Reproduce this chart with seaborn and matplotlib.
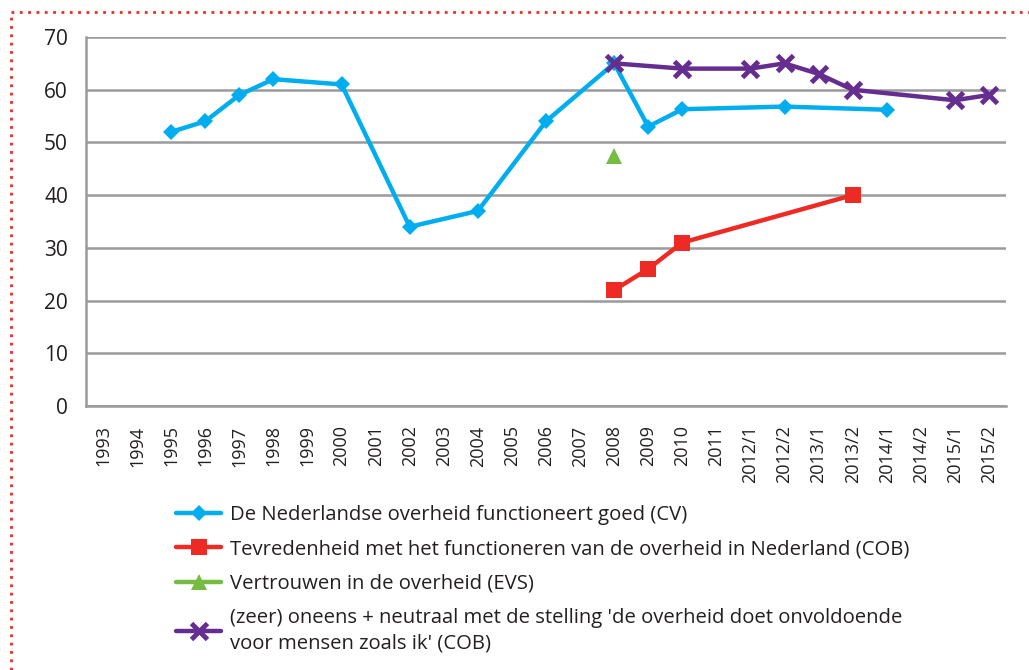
import matplotlib.pyplot as plt
import seaborn as sns
from matplotlib.lines import Line2D

# categorieën op de x-as
periodes = ["1993", "1994", "1995", "1996", "1997", "1998", "1999", "2000", "2001",
            "2002", "2003", "2004", "2005", "2006", "2007", "2008", "2009", "2010",
            "2011", "2012/1", "2012/2", "2013/1", "2013/2", "2014/1", "2014/2",
            "2015/1", "2015/2"]

# De Nederlandse overheid functioneert goed (CV)
cv_periodes = ["1995", "1996", "1997", "1998", "2000", "2002", "2004", "2006",
               "2008", "2009", "2010", "2012/2", "2014/1"]
cv_waarden = [52, 54, 59, 62, 61, 34, 37, 54, 65, 53, 56.3, 56.8, 56.2]

# Tevredenheid met het functioneren van de overheid (COB)
cob_periodes = ["2008", "2009", "2010", "2013/2"]
cob_waarden = [22, 26, 31, 40]

# Vertrouwen in de overheid (EVS)
evs_periodes = ["2008"]
evs_waarden = [47.5]

# (zeer) oneens + neutraal (COB)
oneens_periodes = ["2008", "2010", "2012/1", "2012/2", "2013/1", "2013/2", "2015/1", "2015/2"]
oneens_waarden = [65, 64, 64, 65, 63, 60, 58, 59]

labels = [
    "De Nederlandse overheid functioneert goed (CV)",
    "Tevredenheid met het functioneren van de overheid in Nederland (COB)",
    "Vertrouwen in de overheid (EVS)",
    "(zeer) oneens + neutraal met de stelling 'de overheid doet onvoldoende\nvoor mensen zoals ik' (COB)",
]

sns.set_style("white")
plt.rcParams['font.family'] = ['Open Sans', 'DejaVu Sans']

fig = plt.figure(figsize=(10.29, 6.70), dpi=100)
ax = fig.add_axes([86 / 1029, 1 - 406 / 670, 920 / 1029, 369 / 670])

grijs = "#9b9b9d"
tekst = "#231f20"

def pos(lijst):
    return [periodes.index(p) for p in lijst]

sns.lineplot(x=pos(cv_periodes), y=cv_waarden, ax=ax, color="#00aeef", lw=3.2,
             marker="D", markersize=8.5, markeredgewidth=0, label=labels[0], zorder=3)
sns.lineplot(x=pos(cob_periodes), y=cob_waarden, ax=ax, color="#ee2a24", lw=3.2,
             marker="s", markersize=12, markeredgewidth=0, label=labels[1], zorder=3)
sns.lineplot(x=pos(evs_periodes), y=evs_waarden, ax=ax, color="#76bc43", lw=3.2,
             marker="^", markersize=11, markeredgewidth=0, label=labels[2], zorder=3)
sns.lineplot(x=pos(oneens_periodes), y=oneens_waarden, ax=ax, color="#662d91", lw=3.2,
             marker="x", markersize=12, markeredgewidth=3.5, markeredgecolor="#662d91",
             label=labels[3], zorder=4)

ax.set_xlim(-0.5, len(periodes) - 0.5)
ax.set_ylim(0, 70)
ax.set_yticks(range(0, 71, 10))
ax.set_xticks(range(len(periodes)))
ax.set_xticklabels(periodes, rotation=90, fontsize=13, color=tekst)
ax.set_xticks([i - 0.5 for i in range(len(periodes) + 1)], minor=True)
ax.tick_params(axis="x", which="major", length=0, pad=14)
ax.tick_params(axis="x", which="minor", length=5, width=1.5, color=grijs, direction="out")
ax.tick_params(axis="y", length=6, width=1.5, color=grijs, labelsize=15, labelcolor=tekst, pad=7)

ax.grid(axis="y", color=grijs, lw=1.8)
ax.grid(axis="x", visible=False)
for s in ["top", "right"]:
    ax.spines[s].set_visible(False)
for s in ["left", "bottom"]:
    ax.spines[s].set_color(grijs)
    ax.spines[s].set_linewidth(1.8)
ax.set_axisbelow(True)
ax.set_xlabel("")
ax.set_ylabel("")

handles, lbls = ax.get_legend_handles_labels()
ax.get_legend().remove()
leg = fig.legend(handles, lbls, loc="upper left", bbox_to_anchor=(158 / 1029, 1 - 487 / 670),
                 frameon=False, fontsize=14.6, handlelength=2.2, handletextpad=0.45,
                 labelspacing=0.7, labelcolor=tekst)
for t in leg.get_texts():
    t.set_linespacing(1.4)

# rode stippelrand
rood = "#ee2a24"
fig.add_artist(Line2D([11 / 1029, 1], [1 - 12 / 670, 1 - 12 / 670], transform=fig.transFigure,
                      color=rood, lw=2, linestyle=(0, (1, 2))))
fig.add_artist(Line2D([11 / 1029, 11 / 1029], [0, 1 - 12 / 670], transform=fig.transFigure,
                      color=rood, lw=2, linestyle=(0, (1, 2))))

fig.savefig("out.png", dpi=100)
